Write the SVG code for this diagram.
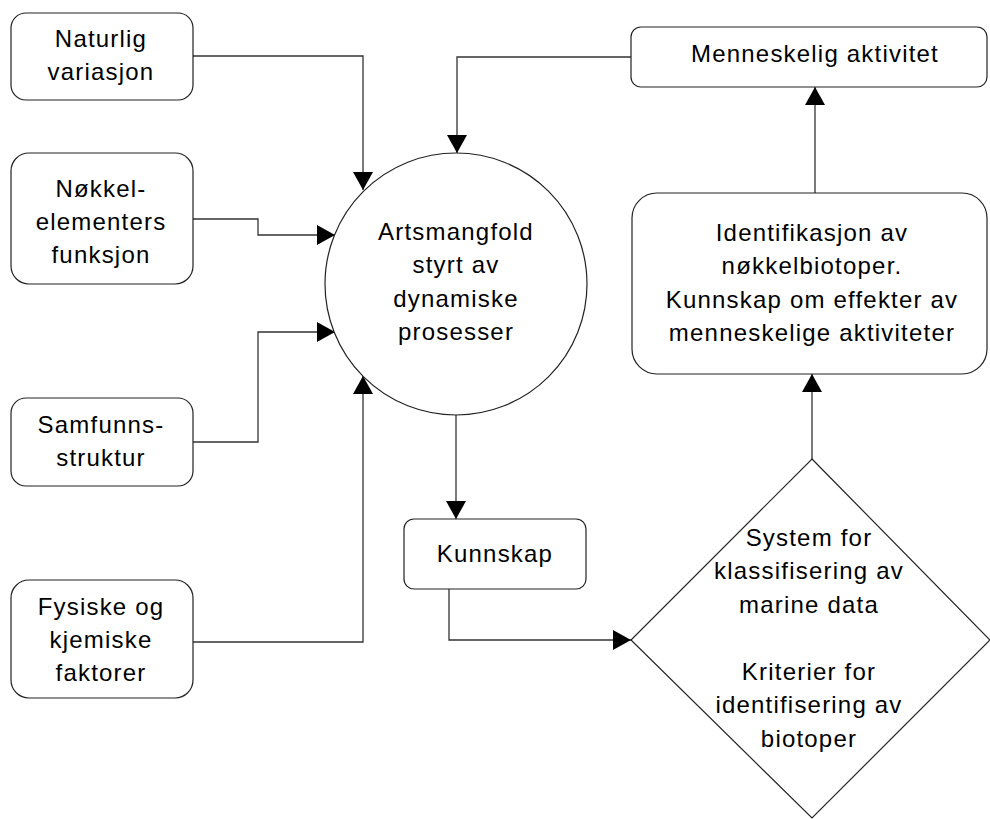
<svg xmlns="http://www.w3.org/2000/svg" width="990" height="819" viewBox="0 0 990 819">
<defs>
<marker id="arr" markerUnits="userSpaceOnUse" markerWidth="20" markerHeight="20" refX="18" refY="10" orient="auto">
<path d="M0,0 L18,10 L0,20 Z" fill="#000"/>
</marker>
<style>
.box{fill:#fff;stroke:#222;stroke-width:1.2}
.t{font-family:"Liberation Sans",Arial,sans-serif;font-size:24px;letter-spacing:1.2px;text-anchor:middle;fill:#000}
.c{fill:none;stroke:#333;stroke-width:1.3;marker-end:url(#arr)}
</style>
</defs>
<rect width="990" height="819" fill="#fff"/>
<g id="connectors">
<path class="c" d="M193,56 H363 V190"/>
<path class="c" d="M193,219 H258 V235 H335"/>
<path class="c" d="M193,442 H258 V332 H335"/>
<path class="c" d="M193,642 H363 V376"/>
<path class="c" d="M631,57 H457 V153"/>
<path class="c" d="M815,193 V87"/>
<path class="c" d="M812,459 V374"/>
<path class="c" d="M456,415 V519"/>
<path class="c" d="M449,589 V640 H631"/>
</g>
<g id="naturlig">
<rect class="box" x="11" y="13" width="182" height="87" rx="15"/>
<text class="t" x="101" y="47">Naturlig</text>
<text class="t" x="101" y="80">variasjon</text>
</g>
<g id="nokkel">
<rect class="box" x="11" y="153" width="182" height="131" rx="18"/>
<text class="t" x="101" y="197">Nøkkel-</text>
<text class="t" x="101" y="230">elementers</text>
<text class="t" x="101" y="263">funksjon</text>
</g>
<g id="samfunn">
<rect class="box" x="11" y="398" width="182" height="88" rx="15"/>
<text class="t" x="101" y="433">Samfunns-</text>
<text class="t" x="101" y="466">struktur</text>
</g>
<g id="fysiske">
<rect class="box" x="11" y="580" width="182" height="118" rx="18"/>
<text class="t" x="101" y="615">Fysiske og</text>
<text class="t" x="101" y="648">kjemiske</text>
<text class="t" x="101" y="681">faktorer</text>
</g>
<g id="artsmangfold">
<circle class="box" cx="456" cy="284" r="131"/>
<text class="t" x="456" y="240">Artsmangfold</text>
<text class="t" x="456" y="273">styrt av</text>
<text class="t" x="456" y="307">dynamiske</text>
<text class="t" x="456" y="340">prosesser</text>
</g>
<g id="menneskelig">
<rect class="box" x="631" y="27" width="356" height="60" rx="10"/>
<text class="t" x="815" y="62">Menneskelig aktivitet</text>
</g>
<g id="identifikasjon">
<rect class="box" x="632" y="193" width="355" height="181" rx="25"/>
<text class="t" x="812" y="241">Identifikasjon av</text>
<text class="t" x="812" y="274">nøkkelbiotoper.</text>
<text class="t" x="812" y="308">Kunnskap om effekter av</text>
<text class="t" x="812" y="341">menneskelige aktiviteter</text>
</g>
<g id="kunnskap">
<rect class="box" x="404" y="519" width="182" height="70" rx="10"/>
<text class="t" x="495" y="562">Kunnskap</text>
</g>
<g id="system">
<path class="box" d="M812,459 L990,640 L812,818 L631,640 Z"/>
<text class="t" x="809" y="546">System for</text>
<text class="t" x="809" y="579">klassifisering av</text>
<text class="t" x="809" y="613">marine data</text>
<text class="t" x="809" y="680">Kriterier for</text>
<text class="t" x="809" y="713">identifisering av</text>
<text class="t" x="809" y="747">biotoper</text>
</g>
</svg>
